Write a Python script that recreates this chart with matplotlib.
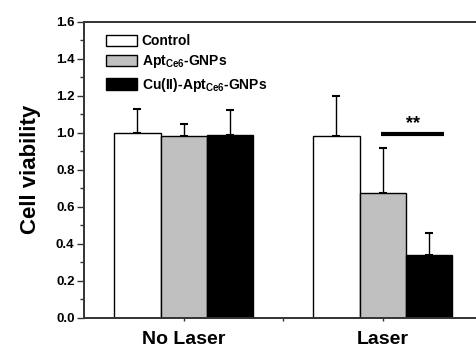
import matplotlib
matplotlib.use("Agg")
import matplotlib.pyplot as plt
import numpy as np

plt.rcParams['font.family'] = ['Liberation Sans', 'DejaVu Sans']
plt.rcParams['font.weight'] = 'bold'
plt.rcParams['mathtext.fontset'] = 'custom'
plt.rcParams['mathtext.rm'] = 'Liberation Sans:bold'
plt.rcParams['mathtext.bf'] = 'Liberation Sans:bold'
plt.rcParams['mathtext.it'] = 'Liberation Sans:bold'

groups = ["No Laser", "Laser"]
series = ["Control", r"Apt$_{\mathrm{Ce6}}$-GNPs", r"Cu(II)-Apt$_{\mathrm{Ce6}}$-GNPs"]
colors = ["white", "#c0c0c0", "black"]
values = [[1.00, 0.98], [0.982, 0.677], [0.99, 0.34]]
errors = [[0.13, 0.22], [0.068, 0.243], [0.134, 0.118]]
sig_level = 0.995
sig_label = "**"

fig = plt.figure(figsize=(4.77, 3.53), dpi=100)
ax = fig.add_axes([0.1767, 0.0992, 0.8344, 0.8394])

x = np.arange(1, len(groups) + 1)
w = 0.2335
for i, (s, c) in enumerate(zip(series, colors)):
    pos = x + (i - 1) * w
    ax.bar(pos, values[i], width=w, color=c, edgecolor='black', linewidth=1.0,
           label=s, zorder=2)
    ax.errorbar(pos, values[i], yerr=[np.zeros(len(groups)), errors[i]], fmt='none',
                ecolor='black', elinewidth=1.0, capsize=2.8, capthick=1.5, zorder=1)

# significance bar between Apt and Cu(II)-Apt in Laser group
x1 = x[1] - 0.0075
x2 = x[1] + 0.31
ax.plot([x1, x2], [sig_level, sig_level], color='black', linewidth=3, solid_capstyle='butt')
ax.text((x1 + x2) / 2, sig_level + 0.008, sig_label, ha='center', va='bottom',
        fontsize=13, fontweight='bold')

ax.set_xlim(0.5, 2.5)
ax.set_ylim(0, 1.6)
ax.set_xticks(x)
ax.set_xticklabels(groups, fontsize=14, fontweight='bold')
ax.set_xticks([1.5], minor=True)
ax.set_yticks(np.arange(0, 1.61, 0.2))
ax.set_yticklabels([f"{v:.1f}" for v in np.arange(0, 1.61, 0.2)], fontsize=9.5, fontweight='bold')
ax.set_yticks(np.arange(0.1, 1.6, 0.2), minor=True)
ax.tick_params(axis='y', which='major', direction='out', length=5, width=1, colors='#333333', labelcolor='black', pad=2)
ax.tick_params(axis='y', which='minor', direction='out', length=3, width=1, colors='#333333')
ax.tick_params(axis='x', which='both', direction='out', length=2, width=1, colors='#333333', labelcolor='black', pad=7.5)
ax.set_ylabel("Cell viability", fontsize=16, fontweight='bold', labelpad=11)

for sp in ['left', 'bottom', 'top']:
    ax.spines[sp].set_color('#333333')
    ax.spines[sp].set_linewidth(1.4)
ax.spines['right'].set_visible(False)

leg = ax.legend(loc='upper left', bbox_to_anchor=(0.054, 0.958), frameon=False,
                handlelength=2.28, handleheight=0.9, handletextpad=0.3,
                labelspacing=0.38, borderpad=0, borderaxespad=0,
                prop={'weight': 'bold', 'size': 10})

fig.savefig("out.png", dpi=100)
